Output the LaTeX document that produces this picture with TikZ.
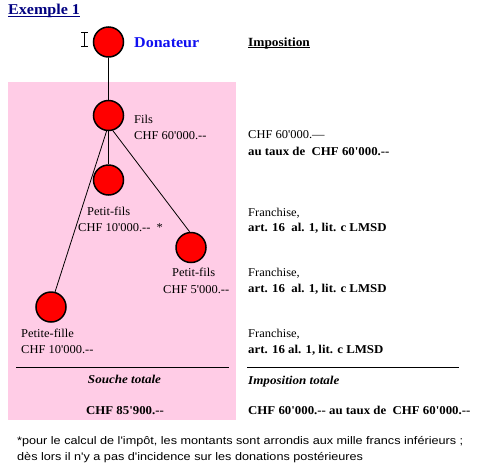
\documentclass[tikz,border=0pt]{standalone}
\usepackage{fontspec}
\setmainfont{Liberation Serif}[Ligatures=TeXOff,
  UprightFeatures={FakeStretch=1.04},
  BoldFeatures={FakeStretch=1.07},
  BoldItalicFeatures={FakeStretch=1.09}]
\newfontfamily\arialf{Liberation Sans}[Ligatures=TeXOff,FakeStretch=1.15]
\definecolor{pinkbg}{RGB}{255,204,230}
\definecolor{navyc}{RGB}{0,0,128}
\definecolor{donblue}{RGB}{16,16,240}
\begin{document}
\begin{tikzpicture}[x=1pt,y=-1pt,
  person/.style={circle,draw=black,line width=1.5pt,fill=red,minimum size=30pt,inner sep=0pt},
  txt/.style={inner sep=0pt,anchor=base west,font=\fontsize{12}{14}\selectfont},
  ctxt/.style={inner sep=0pt,anchor=base,font=\fontsize{12}{14}\selectfont},
  btxt/.style={txt,font=\fontsize{12}{14}\selectfont\bfseries},
  link/.style={draw=black,line width=0.8pt},
  rule/.style={draw=black,line width=0.9pt},
  foot/.style={inner sep=0pt,anchor=base west,font=\arialf\fontsize{11}{13}\selectfont}
]
\useasboundingbox (0,0) rectangle (478,469);
\fill[pinkbg] (8,82) rectangle (236,420);

% title
\node[inner sep=0pt,anchor=base west,font=\fontsize{15}{18}\selectfont\bfseries,text=navyc] (ex) at (8,14) {Exemple 1};
\draw[navyc,line width=1.6pt] ([yshift=-2.5pt]ex.base west) -- ([yshift=-2.5pt]ex.base east);

% I-beam cursor
\coordinate (cA) at (84.5,32);
\coordinate (cB) at (84.5,46);
\draw[line width=0.8pt] (cA) -- (cB);
\draw[line width=0.8pt] ([xshift=-3.5pt]cA) -- ([xshift=3.5pt]cA);
\draw[line width=0.8pt] ([xshift=-3.5pt]cB) -- ([xshift=3.5pt]cB);

% persons
\node[person] (don) at (108.5,42) {};
\node[person] (fils) at (108.5,115.5) {};
\node[person] (pf1) at (108.5,180) {};
\node[person] (pf2) at (191,247.5) {};
\node[person] (pfille) at (51,307) {};

% connectors
\draw[link,line width=1pt] (don.south) -- (fils.north);
\draw[link] (fils.south) -- (pf1.north);
\draw[link] (fils.-97) -- (pfille.75);
\draw[link] (fils.-74) -- (pf2.95);

% labels
\node[inner sep=0pt,anchor=base west,font=\fontsize{15}{18}\selectfont\bfseries,text=donblue] (donl) at (134,47) {Donateur};
\node[txt] (filsl) at (134,123) {Fils};
\node[txt] (filsa) at (134,139) {CHF 60'000.--};
\node[txt] (pf1l) at (87,215) {Petit-fils};
\node[txt] (pf1a) at (78,231) {CHF 10'000.-- \ *};
\node[txt] (pf2l) at (172,276) {Petit-fils};
\node[txt] (pf2a) at (163,293) {CHF 5'000.--};
\node[txt] (pfil) at (21,337) {Petite-fille};
\node[txt] (pfia) at (21,353) {CHF 10'000.--};

% right column
\node[inner sep=0pt,anchor=base west,font=\fontsize{12.5}{14}\selectfont\bfseries] (imp) at (248,46) {Imposition};
\draw[line width=0.8pt] ([yshift=-1.5pt]imp.base west) -- ([yshift=-1.5pt]imp.base east);
\node[txt] (r1a) at (248,138) {CHF 60'000.—};
\node[btxt] (r1b) at (248,155) {au taux de \ CHF 60'000.--};
\node[txt] (r2a) at (248,216) {Franchise,};
\node[btxt] (r2b) at (248,231) {art. 16 \ al. 1, lit. c LMSD};
\node[txt] (r3a) at (248,276) {Franchise,};
\node[btxt] (r3b) at (248,292) {art. 16 \ al. 1, lit. c LMSD};
\node[txt] (r4a) at (248,337) {Franchise,};
\node[btxt] (r4b) at (248,353) {art. 16 al. 1, lit. c LMSD};

% totals
\coordinate (l1a) at (16,367.5);
\coordinate (l1b) at (229,367.5);
\coordinate (l2a) at (247,367.5);
\coordinate (l2b) at (459,367.5);
\draw[rule] (l1a) -- (l1b);
\draw[rule] (l2a) -- (l2b);
\node[ctxt,font=\fontsize{12}{14}\selectfont\bfseries\itshape] (souche) at (124.5,383) {Souche totale};
\node[txt,font=\fontsize{12}{14}\selectfont\bfseries\itshape] (impt) at (248,384) {Imposition totale};
\node[ctxt,font=\fontsize{12}{14}\selectfont\bfseries] (tot1) at (125,414) {CHF 85'900.--};
\node[btxt] (tot2) at (248,414) {CHF 60'000.-- au taux de \ CHF 60'000.--};

% footnote
\node[foot] (f1) at (17,444) {*pour le calcul de l'impôt, les montants sont arrondis aux mille francs inférieurs ;};
\node[foot] (f2) at (17,460) {dès lors il n'y a pas d'incidence sur les donations postérieures};
\end{tikzpicture}
\end{document}
